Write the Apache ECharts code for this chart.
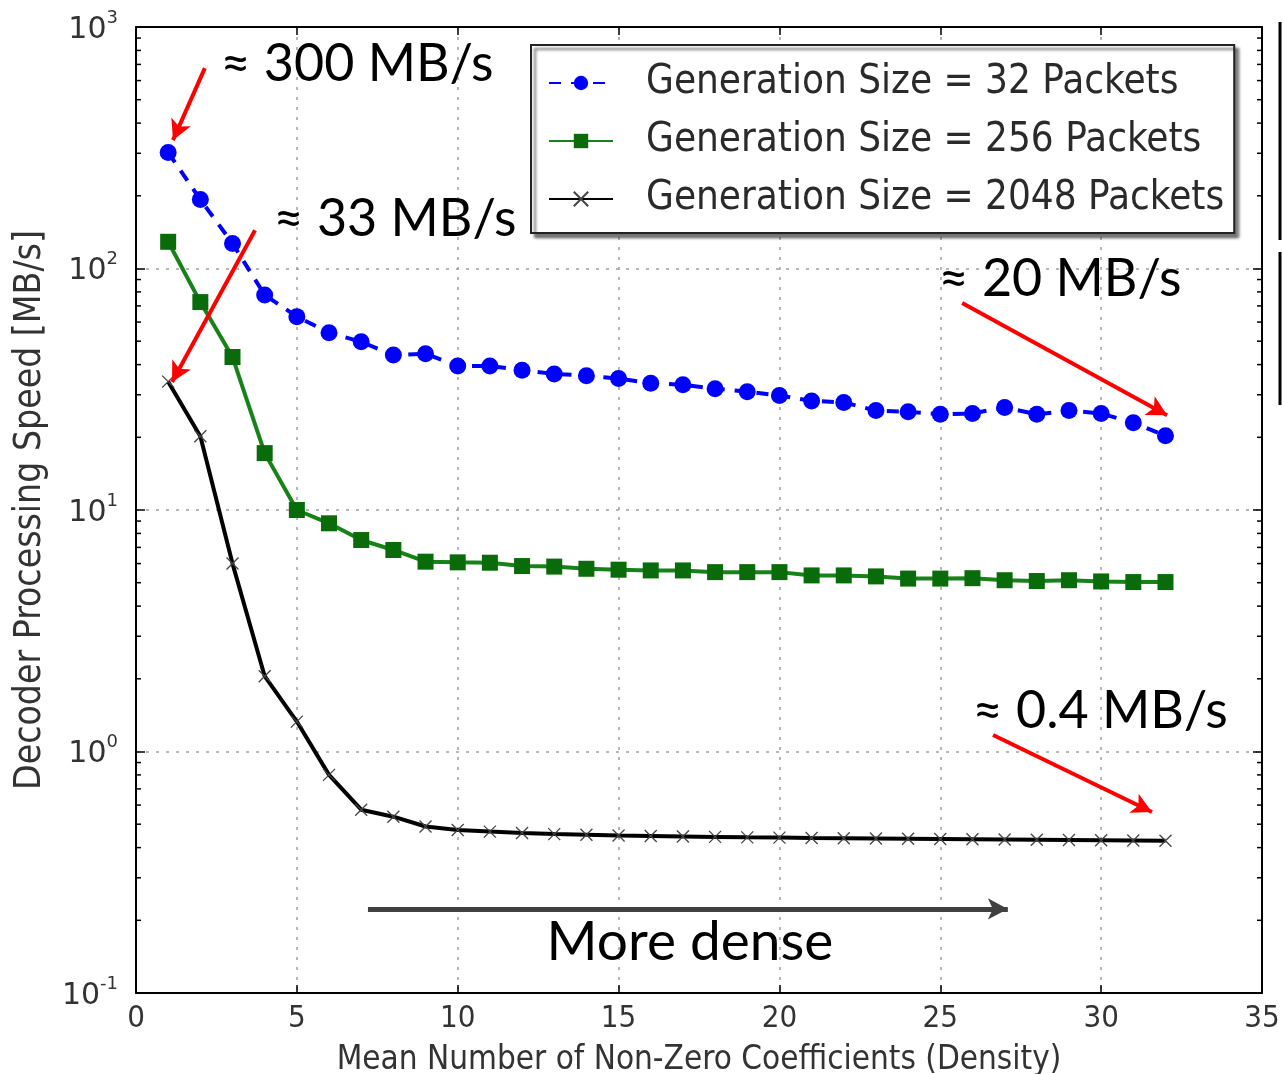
<!DOCTYPE html>
<html>
<head>
<meta charset="utf-8">
<script src="https://cdn.jsdelivr.net/npm/echarts@6/dist/echarts.min.js"></script>
<style>
html,body{margin:0;padding:0;background:#fff;}
#c{width:1282px;height:1074px;}
</style>
</head>
<body>
<div id="c"></div>
<script>
// ---- data ----
const density = [1,2,3,4,5,6,7,8,9,10,11,12,13,14,15,16,17,18,19,20,21,22,23,24,25,26,27,28,29,30,31,32];
const gen32 = [302,193,127,77.7,63.2,54.2,49.7,43.8,44.4,39.5,39.5,37.9,36.6,36.0,35.0,33.5,33.0,31.8,30.9,29.8,28.3,27.9,25.8,25.5,24.9,25.1,26.6,24.9,25.8,25.1,23.0,20.3];
const gen256 = [129,72.6,43,17.2,10.0,8.81,7.51,6.83,6.11,6.07,6.05,5.86,5.83,5.71,5.66,5.62,5.62,5.53,5.53,5.53,5.36,5.36,5.31,5.2,5.2,5.22,5.12,5.08,5.12,5.06,5.03,5.03];
const gen2048 = [34,20.2,6.0,2.05,1.33,0.80,0.574,0.537,0.489,0.473,0.466,0.46,0.455,0.452,0.449,0.447,0.445,0.443,0.441,0.44,0.438,0.437,0.436,0.435,0.434,0.433,0.432,0.431,0.43,0.429,0.428,0.427];
const seriesNames = ['Generation Size = 32 Packets','Generation Size = 256 Packets','Generation Size = 2048 Packets'];
const xTicks = [0,5,10,15,20,25,30,35];
const yMajorTicks = [0.1,1,10,100,1000];
const yMinorTicks = [0.2,0.3,0.4,0.5,0.6,0.7,0.8,0.9,2,3,4,5,6,7,8,9,20,30,40,50,60,70,80,90,200,300,400,500,600,700,800,900];
// annotations (data coordinates)
const notes = [
  {text:'≈ 300 MB/s', at:[6.87,700], from:[2.14,676], to:[1.15,340]},
  {text:'≈ 33 MB/s',  at:[8.05,160], from:[3.70,144], to:[1.12,33.9]},
  {text:'≈ 20 MB/s',  at:[28.72,90], from:[25.68,71.9], to:[32.05,24.7]},
  {text:'≈ 0.4 MB/s', at:[29.97,1.47], from:[26.64,1.17], to:[31.58,0.562]}
];
const denseNote = {text:'More dense', at:[17.22,0.162], from:[7.21,0.223], to:[27.1,0.223]};

const condensed = '"Liberation Sans Narrow", "DejaVu Sans Condensed", "DejaVu Sans", sans-serif';
const annoFont = 'Lato, "Open Sans", sans-serif';

function pair(a,b){ return a.map((v,i)=>[v,b[i]]); }

const chart = echarts.init(document.getElementById('c'), null, {renderer:'canvas'});

const gridLine = {show:true, lineStyle:{color:'#a0a0a0', type:[3,7], width:1.5}};

const option = {
  animation:false,
  backgroundColor:'#fff',
  grid:{left:136, right:20, top:27, bottom:81, containLabel:false, outerBoundsMode:'none'},
  legend:{
    orient:'vertical', left:531, top:45,
    padding:[18,10,14,17], itemGap:18,
    itemWidth:64, itemHeight:18,
    backgroundColor:'#fff', borderColor:'#222', borderWidth:2,
    shadowColor:'rgba(0,0,0,0.55)', shadowBlur:3, shadowOffsetX:4, shadowOffsetY:4,
    textStyle:{fontFamily:condensed, fontSize:40, color:'#2a2a2a', padding:[0,0,0,28]},
    data:seriesNames
  },
  xAxis:[
    {type:'value', min:0, max:35, interval:5, position:'bottom',
     axisLine:{show:true, onZero:false, lineStyle:{color:'#000', width:2}},
     axisTick:{show:true, inside:true, length:8, lineStyle:{color:'#000', width:1.5}},
     axisLabel:{fontFamily:condensed, fontSize:31, color:'#333', margin:10},
     splitLine:gridLine,
     name:'Mean Number of Non-Zero Coefficients (Density)', nameLocation:'middle', nameGap:51,
     nameTextStyle:{fontFamily:condensed, fontSize:33, color:'#333'}},
    {type:'value', min:0, max:35, interval:5, position:'top',
     axisLine:{show:true, onZero:false, lineStyle:{color:'#000', width:2}},
     axisTick:{show:true, inside:true, length:8, lineStyle:{color:'#000', width:1.5}},
     axisLabel:{show:false}, splitLine:{show:false}}
  ],
  yAxis:[
    {type:'log', logBase:10, min:0.1, max:1000, position:'left',
     axisLine:{show:true, onZero:false, lineStyle:{color:'#000', width:2}},
     axisTick:{show:true, inside:true, length:9, lineStyle:{color:'#000', width:1.5}},
     axisLabel:{margin:18, formatter:function(v){
        const e = Math.round(Math.log10(v));
        return '{b|10}{e|' + e + '}';
      },
      rich:{
        b:{fontFamily:'"DejaVu Sans", sans-serif', fontSize:30, color:'#333', lineHeight:36, verticalAlign:'bottom'},
        e:{fontFamily:'"DejaVu Sans", sans-serif', fontSize:18, color:'#333', lineHeight:36, verticalAlign:'top'}
      }},
     splitLine:gridLine,
     name:'Decoder Processing Speed [MB/s]', nameLocation:'middle', nameGap:87, nameRotate:90,
     nameTextStyle:{fontFamily:condensed, fontSize:37, color:'#333'}},
    {type:'log', logBase:10, min:0.1, max:1000, position:'right',
     axisLine:{show:true, onZero:false, lineStyle:{color:'#000', width:2}},
     axisTick:{show:true, inside:true, length:9, lineStyle:{color:'#000', width:1.5}},
     axisLabel:{show:false}, splitLine:{show:false}}
  ],
  series:[
    {name:seriesNames[0], type:'line', data:pair(density, gen32),
     symbol:'circle', symbolSize:17, color:'#0000ff',
     itemStyle:{color:'#0000ff'},
     lineStyle:{color:'#0000ff', width:4, type:[12,10]}, z:3},
    {name:seriesNames[1], type:'line', data:pair(density, gen256),
     symbol:'rect', symbolSize:16, color:'#0a6b0a',
     itemStyle:{color:'#0a6b0a'},
     lineStyle:{color:'#178217', width:4}, z:3},
    {name:seriesNames[2], type:'line', data:pair(density, gen2048),
     symbol:'path://M0,0L10,10M10,0L0,10', symbolSize:12, color:'#000',
     itemStyle:{color:'rgba(0,0,0,0)', borderColor:'#444', borderWidth:1.3},
     lineStyle:{color:'#000', width:4}, z:3,
     markLine:{
       silent:true, symbol:['none','arrow'], symbolSize:[16,20],
       label:{show:false},
       lineStyle:{color:'#ff0000', width:4, type:'solid'},
       data: notes.map(n=>[{coord:n.from},{coord:n.to}]).concat([
         [{coord:denseNote.from, lineStyle:{color:'#404040', width:5}},{coord:denseNote.to}]
       ])
     },
     markPoint:{
       silent:true, symbol:'circle', symbolSize:1,
       itemStyle:{color:'rgba(0,0,0,0)'},
       label:{show:true, position:'inside', formatter:'{b}', fontFamily:annoFont, fontSize:52, color:'#000'},
       data: notes.map(n=>({name:n.text, coord:n.at})).concat([
         {name:denseNote.text, coord:denseNote.at, label:{fontSize:55}}
       ])
     }},
    {name:'minorTicks', type:'custom', data:yMinorTicks.map(v=>[0,v]), encode:{x:0,y:1}, silent:true, z:5,
     renderItem:function(params, api){
       const v = api.value(1);
       const pL = api.coord([0, v]);
       const pR = api.coord([35, v]);
       return {type:'group', children:[
         {type:'line', shape:{x1:pL[0], y1:pL[1], x2:pL[0]+5, y2:pL[1]}, style:{stroke:'#000', lineWidth:1.5}},
         {type:'line', shape:{x1:pR[0]-5, y1:pR[1], x2:pR[0], y2:pR[1]}, style:{stroke:'#000', lineWidth:1.5}}
       ]};
     }}
  ],
  graphic:[
    {type:'line', shape:{x1:1280, y1:22, x2:1280, y2:240}, style:{stroke:'#000', lineWidth:3}},
    {type:'line', shape:{x1:1280, y1:252, x2:1280, y2:405}, style:{stroke:'#000', lineWidth:3}}
  ]
};
chart.setOption(option);
</script>
</body>
</html>
